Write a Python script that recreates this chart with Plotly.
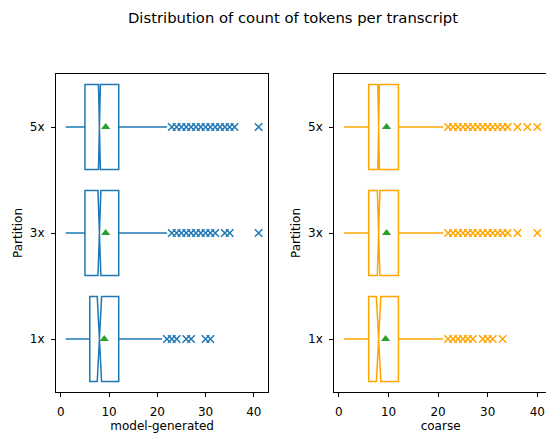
import plotly.graph_objects as go

# ---------------- data ----------------
partitions = ["1x", "3x", "5x"]

# model-generated (left panel)
mg_q1 = [6, 5, 5]
mg_median = [8, 8, 8]
mg_q3 = [12, 12, 12]
mg_low = [1, 1, 1]
mg_high = [21, 22, 22]
mg_mean = [9.0, 9.3, 9.3]
mg_notch_half = [0.45, 0.3, 0.2]
mg_out_1x = [22, 23, 24, 26, 27, 30, 31]
mg_out_3x = [23, 24, 25, 26, 27, 28, 29, 30, 31, 32, 34, 35, 41]
mg_out_5x = [23, 24, 25, 26, 27, 28, 29, 30, 31, 32, 33, 34, 35, 36, 41]

# coarse (right panel)
co_q1 = [6, 6, 6]
co_median = [8, 8, 8]
co_q3 = [12, 12, 12]
co_low = [1, 1, 1]
co_high = [21, 21, 21]
co_mean = [9.4, 9.6, 9.6]
co_notch_half = [0.45, 0.26, 0.17]
co_out_1x = [22, 23, 24, 25, 26, 27, 29, 30, 31, 33]
co_out_3x = [22, 23, 24, 25, 26, 27, 28, 29, 30, 31, 32, 33, 34, 36, 40]
co_out_5x = [22, 23, 24, 25, 26, 27, 28, 29, 30, 31, 32, 33, 34, 36, 38, 40]

x_ticks = [0, 10, 20, 30, 40]

BLUE = "#1f77b4"
ORANGE = "#FFA500"
GREEN = "#2ca02c"
FONT = "DejaVu Sans"

fig = go.Figure()


def add_panel(xa, ya, color, q1, med, q3, low, high, mean, notch, outs):
    fig.add_trace(go.Box(
        y=partitions, q1=q1, median=med, q3=q3,
        lowerfence=low, upperfence=high,
        notchspan=notch, notched=True, notchwidth=0.5,
        orientation="h", boxpoints=False, width=0.8, whiskerwidth=0,
        line=dict(color=color, width=1.5), fillcolor="rgba(0,0,0,0)",
        xaxis=xa, yaxis=ya, showlegend=False, hoverinfo="skip",
    ))
    for p, o in zip(partitions, outs):
        fig.add_trace(go.Scatter(
            x=o, y=[p] * len(o), mode="markers",
            marker=dict(symbol="x-thin-open", size=7.5, color=color,
                        line=dict(color=color, width=1.5)),
            xaxis=xa, yaxis=ya, showlegend=False, hoverinfo="skip",
        ))
    fig.add_trace(go.Scatter(
        x=mean, y=partitions, mode="markers",
        marker=dict(symbol="triangle-up", size=8, color=GREEN, line=dict(width=0)),
        xaxis=xa, yaxis=ya, showlegend=False, hoverinfo="skip",
    ))


add_panel("x", "y", BLUE, mg_q1, mg_median, mg_q3, mg_low, mg_high, mg_mean,
          mg_notch_half, [mg_out_1x, mg_out_3x, mg_out_5x])
add_panel("x2", "y2", ORANGE, co_q1, co_median, co_q3, co_low, co_high, co_mean,
          co_notch_half, [co_out_1x, co_out_3x, co_out_5x])

axis_common = dict(
    showline=True, linecolor="black", linewidth=1, mirror=True,
    ticks="outside", ticklen=4, tickwidth=1, tickcolor="black",
    showgrid=False, zeroline=False, automargin=False,
    tickfont=dict(family=FONT, size=12, color="black"),
)

# the page body adds an 8px offset; the figure is laid out to compensate
OFF = 8
FW, FH = 554 - OFF, 436 - OFF
L = 56 - OFF
R = FW - (547.5 - OFF)
T = 74 - OFF
B = FH - (392 - OFF)
W = FW - L - R
d1 = (268.5 - 56) / W
d2 = (334.5 - 56) / W

fig.update_layout(
    width=FW, height=FH,
    margin=dict(l=L, r=R, t=T, b=B),
    paper_bgcolor="white", plot_bgcolor="white",
    font=dict(family=FONT, size=12, color="black"),
    title=dict(text="Distribution of count of tokens per transcript",
               x=(293 - OFF) / FW, xanchor="center",
               y=1 - (18 - OFF) / FH, yanchor="middle",
               font=dict(family=FONT, size=14.8, color="black")),
    xaxis=dict(domain=[0, d1], range=[-1, 43], tickvals=x_ticks, anchor="y",
               ticklabelstandoff=5,
               title=dict(text="model-generated", standoff=2,
                          font=dict(family=FONT, size=12)), **axis_common),
    xaxis2=dict(domain=[d2, 1], range=[-0.95, 41.95], tickvals=x_ticks, anchor="y2",
                ticklabelstandoff=5,
                title=dict(text="coarse", standoff=2,
                           font=dict(family=FONT, size=12)), **axis_common),
    yaxis=dict(type="category", categoryorder="array", categoryarray=partitions,
               range=[-0.5, 2.5], anchor="x", ticklabelstandoff=4,
               title=dict(text="Partition", standoff=4,
                          font=dict(family=FONT, size=12)), **axis_common),
    yaxis2=dict(type="category", categoryorder="array", categoryarray=partitions,
                range=[-0.5, 2.5], anchor="x2", ticklabelstandoff=4,
                title=dict(text="Partition", standoff=4,
                           font=dict(family=FONT, size=12)), **axis_common),
)

fig.write_html("out.html")
